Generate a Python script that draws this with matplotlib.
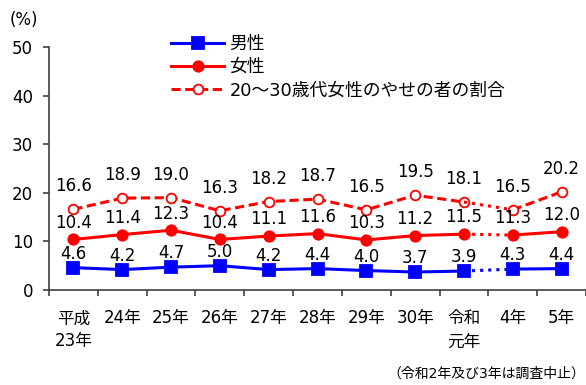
import numpy as np
import matplotlib.pyplot as plt

plt.rcParams['font.family'] = ['DejaVu Sans', 'Noto Sans CJK JP']

# データ
nendo = ['平成\n23年', '24年', '25年', '26年', '27年', '28年', '29年', '30年', '令和\n元年', '4年', '5年']
dansei = [4.6, 4.2, 4.7, 5.0, 4.2, 4.4, 4.0, 3.7, 3.9, 4.3, 4.4]
josei = [10.4, 11.4, 12.3, 10.4, 11.1, 11.6, 10.3, 11.2, 11.5, 11.3, 12.0]
yase = [16.6, 18.9, 19.0, 16.3, 18.2, 18.7, 16.5, 19.5, 18.1, 16.5, 20.2]

blue = '#0000ff'
red = '#ff0000'
fs = 12

fig = plt.figure(figsize=(5.86, 3.85), dpi=100)
ax = fig.add_axes([49 / 586, 1 - 290 / 385, 537 / 586, 243 / 385])

x = np.arange(len(nendo))
brk = 8  # 令和元年の次は調査中止

def senbun(vals, col, ls, mk, mfc, ms, label):
    ax.plot(x[:brk + 1], vals[:brk + 1], color=col, ls=ls, lw=2.2, marker=mk,
            mfc=mfc, mec=col, ms=ms, mew=1.3, label=label)
    ax.plot(x[brk:brk + 2], vals[brk:brk + 2], color=col, ls=':', lw=2.2)
    ax.plot(x[brk + 1:], vals[brk + 1:], color=col, ls=ls, lw=2.2, marker=mk,
            mfc=mfc, mec=col, ms=ms, mew=1.3)

senbun(dansei, blue, '-', 's', blue, 8.5, '男性')
senbun(josei, red, '-', 'o', red, 7.5, '女性')
senbun(yase, red, (0, (3, 1.5)), 'o', 'white', 7, '20～30歳代女性のやせの者の割合')

for i in range(len(nendo)):
    ax.annotate(f'{dansei[i]:.1f}', (x[i], dansei[i]), xytext=(0, 10), textcoords='offset points',
                ha='center', va='center', fontsize=fs)
    ax.annotate(f'{josei[i]:.1f}', (x[i], josei[i]), xytext=(0, 12), textcoords='offset points',
                ha='center', va='center', fontsize=fs)
    ax.annotate(f'{yase[i]:.1f}', (x[i], yase[i]), xytext=(0, 16.5), textcoords='offset points',
                ha='center', va='center', fontsize=fs)

ax.set_xlim(-0.5, len(nendo) - 0.5)
ax.set_ylim(0, 50)
ax.set_yticks([0, 10, 20, 30, 40, 50])
ax.set_xticks(x)
ax.set_xticklabels(nendo, fontsize=fs, linespacing=1.35)
ax.set_xticks(np.arange(-0.5, len(nendo)), minor=True)
ax.tick_params(axis='x', which='major', length=0, pad=14)
ax.tick_params(axis='x', which='minor', length=4.5, width=1.2, direction='out', color='#404040')
ax.tick_params(axis='y', length=4.5, width=1.2, labelsize=fs, pad=7, color='#404040')
for lb in ax.get_xticklabels():
    lb.set_va('top')

ax.spines['top'].set_visible(False)
ax.spines['right'].set_visible(False)
ax.spines['left'].set_linewidth(1.2)
ax.spines['bottom'].set_linewidth(1.2)
ax.spines['left'].set_color('#404040')
ax.spines['bottom'].set_color('#404040')

fig.text(10 / 586, 1 - 20 / 385, '(%)', fontsize=fs, va='center')
fig.text(585 / 586, 1 - 374 / 385, '（令和2年及び3年は調査中止）', fontsize=10, va='center', ha='right')

ax.legend(loc='upper left', bbox_to_anchor=(162 / 586, 1 - 26 / 385),
          bbox_transform=fig.transFigure, frameon=False, fontsize=12.8,
          handlelength=3.0, handletextpad=0.3, labelspacing=0.3, borderpad=0)

fig.savefig('out.png', dpi=100)
